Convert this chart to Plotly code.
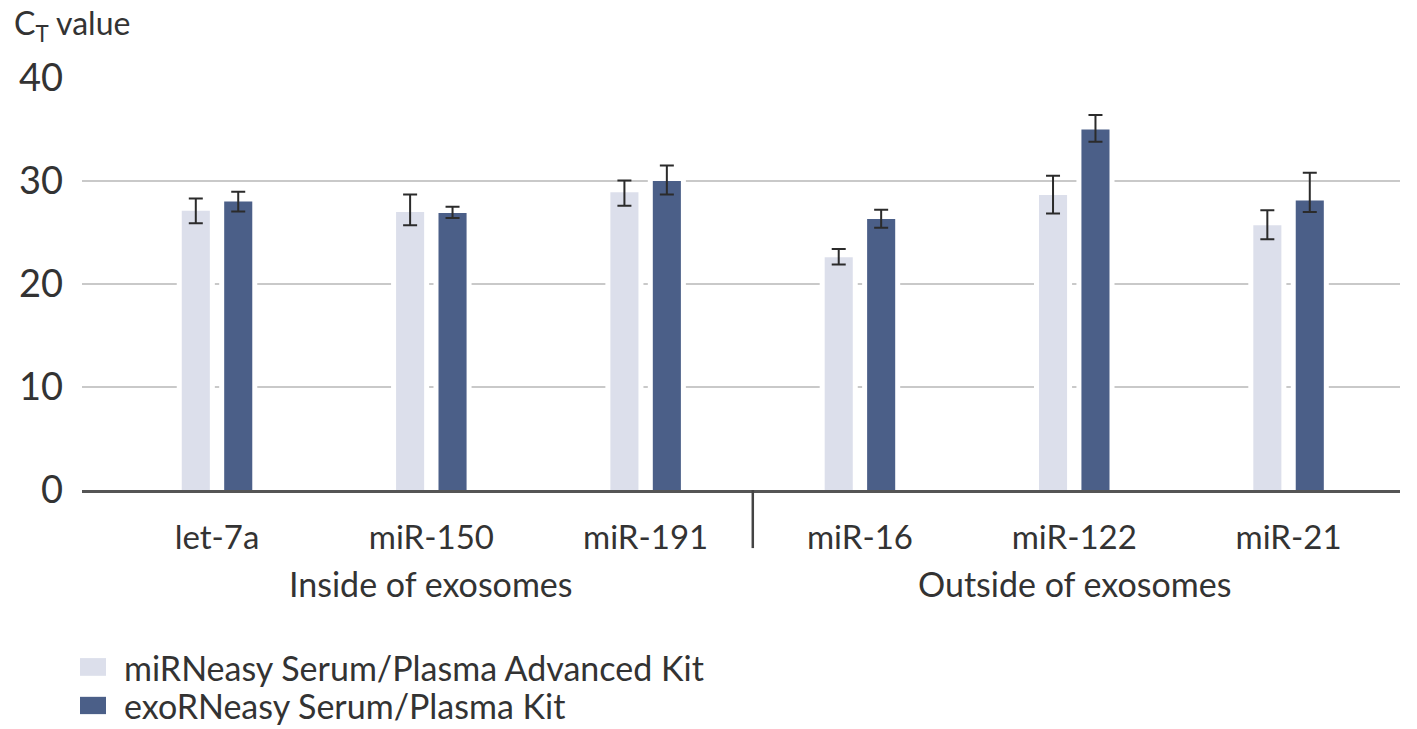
import plotly.graph_objects as go

categories = ["let-7a", "miR-150", "miR-191", "miR-16", "miR-122", "miR-21"]
groups = ["Inside of exosomes", "Outside of exosomes"]
series_names = ["miRNeasy Serum/Plasma Advanced Kit", "exoRNeasy Serum/Plasma Kit"]

advanced_values = [27.1, 27.0, 28.9, 22.6, 28.65, 25.7]
advanced_err_plus = [1.2, 1.7, 1.15, 0.8, 1.85, 1.45]
advanced_err_minus = [1.2, 1.3, 1.3, 0.7, 1.8, 1.35]

exo_values = [28.0, 26.9, 30.0, 26.3, 35.0, 28.1]
exo_err_plus = [0.95, 0.6, 1.5, 0.9, 1.4, 2.7]
exo_err_minus = [0.95, 0.5, 1.3, 0.85, 1.2, 1.1]

y_ticks = [0, 10, 20, 30, 40]

FONT = "Lato"
TXT = "#333333"
LIGHT = "#dcdfeb"
DARK = "#4b5f88"
BAR_W = 0.131
OFFS = [-0.099, 0.099]

x = list(range(len(categories)))
series = [
    (series_names[0], advanced_values, advanced_err_plus, advanced_err_minus, LIGHT),
    (series_names[1], exo_values, exo_err_plus, exo_err_minus, DARK),
]

fig = go.Figure()
# white masks that interrupt the gridlines around each bar
for (name, vals, ep, em, col), off in zip(series, OFFS):
    fig.add_trace(go.Bar(
        x=x, y=vals, width=BAR_W, offset=off - BAR_W / 2, showlegend=False,
        hoverinfo="skip",
        marker=dict(color="white", line=dict(color="white", width=10)),
    ))
for (name, vals, ep, em, col), off in zip(series, OFFS):
    fig.add_trace(go.Bar(
        x=x, y=vals, name=name, width=BAR_W, offset=off - BAR_W / 2,
        marker=dict(color=col, line=dict(width=0)), showlegend=False,
        error_y=dict(type="data", symmetric=False, array=ep, arrayminus=em,
                     color="#2b2b2b", thickness=2, width=7),
    ))

fig.update_layout(
    width=1417, height=729,
    margin=dict(l=82, r=17, t=78, b=239, autoexpand=False),
    paper_bgcolor="white", plot_bgcolor="white",
    barmode="overlay",
    font=dict(family=FONT, color=TXT),
    showlegend=False,
)
fig.update_xaxes(
    range=[-0.63, 5.52], tickmode="array", tickvals=x, ticktext=categories,
    showgrid=False, showline=True, linecolor="#555555", linewidth=2.5,
    tickfont=dict(size=33, family=FONT, color=TXT), ticks="", ticklabelstandoff=17,
    zeroline=False,
)
fig.update_yaxes(
    range=[0, 40], tickmode="array", tickvals=y_ticks,
    showgrid=True, gridcolor="#c9c9c9", gridwidth=2,
    zeroline=False, showline=False, ticks="",
    tickfont=dict(size=38, family=FONT, color=TXT), ticklabelstandoff=18,
)

# divider between groups
fig.add_shape(type="line", xref="x", yref="paper", x0=2.5, x1=2.5, y0=0, y1=-0.141,
              line=dict(color="#444444", width=2.5))

for gx, g in zip([1, 4], groups):
    fig.add_annotation(x=gx, xref="x", y=-0.226, yref="paper", text=g, showarrow=False,
                       xanchor="center", yanchor="middle",
                       font=dict(size=34, family=FONT, color=TXT))

fig.add_annotation(x=-0.053, xref="paper", y=1.129, yref="paper",
                   text="C<sub>T</sub> value", showarrow=False,
                   xanchor="left", yanchor="middle",
                   font=dict(size=32, family=FONT, color=TXT))

# legend
leg_rows = [(-0.408, -0.451, -0.430), (-0.502, -0.544, -0.522)]
for (name, vals, ep, em, col), (y0, y1, yc) in zip(series, leg_rows):
    fig.add_shape(type="rect", xref="paper", yref="paper", x0=-0.0015, x1=0.0182,
                  y0=y0, y1=y1, fillcolor=col, line=dict(width=0))
    fig.add_annotation(x=0.0305, xref="paper", y=yc, yref="paper", text=name,
                       showarrow=False, xanchor="left", yanchor="middle",
                       font=dict(size=34, family=FONT, color=TXT))

fig.write_html("out.html")
